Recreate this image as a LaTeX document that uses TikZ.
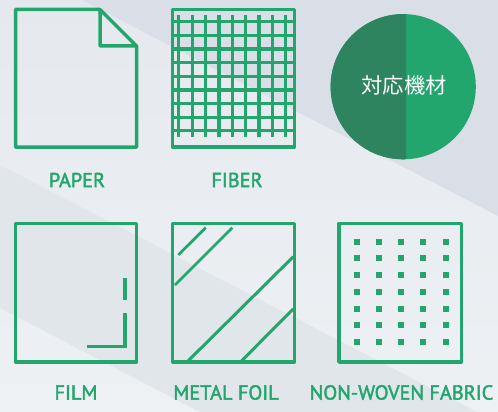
\documentclass[tikz,border=0pt]{standalone}
\usepackage{fontspec}
\setmainfont{PT Sans}[FakeBold=2]
\newfontfamily\cjkfont{Noto Sans CJK JP}
\definecolor{grn}{HTML}{22A66D}
\definecolor{grndark}{HTML}{2F8460}
\definecolor{bgtop}{HTML}{E5E8ED}
\definecolor{bgbot}{HTML}{EEF1F4}
\definecolor{bgdark}{HTML}{DADFE7}
\definecolor{bgband}{HTML}{E1E6EA}
\tikzset{
  icon/.style={draw=grn,line width=3.5pt,line join=round},
  fine/.style={draw=grn,line width=2.7pt},
  grid/.style={draw=grn,line width=3.1pt},
  lab/.style={text=grn,font=\fontsize{20.3}{20.3}\selectfont,inner sep=0pt,anchor=center}
}
\begin{document}
\begin{tikzpicture}[x=1pt,y=-1pt]
\useasboundingbox (0,0) rectangle (498,412);
\shade[top color=bgtop,bottom color=bgbot] (0,0) rectangle (498,412);
\fill[bgdark] (82,0) -- (498,216) -- (498,0) -- cycle;
\fill[bgband] (0,165) -- (477,412) -- (200,412) -- (0,308) -- cycle;
% paper
\draw[icon] (100,9.5) -- (15.5,9.5) -- (15.5,147) -- (136.5,147) -- (136.5,46) -- (100,9.5) -- (100,46) -- (136.5,46);
% fiber
\draw[icon] (172.5,9.5) rectangle (294.5,147);
\foreach \px in {178.7,192.3,205.7,219,232.3,245.7,259,272.3,285.7}
  \draw[grid] (\px,15) -- (\px,137);
\foreach \py in {21.7,35.5,49,62.7,76.3,90,103.7,117.3,130.5}
  \draw[grid] (172.5,\py) -- (294.5,\py);
% film
\draw[icon] (15.5,223.5) rectangle (136.5,362);
\draw[fine,line width=3.2pt] (125,278) -- (125,300);
\draw[fine,line width=3.2pt,line join=miter] (125,313) -- (125,346.7) -- (87,346.7);
% metal foil
\draw[icon] (172.5,223.5) rectangle (294.5,362);
\draw[fine] (205.7,227.7) -- (178.3,255);
\draw[fine] (232.3,227.7) -- (175,285);
\draw[fine,line width=3pt] (293.3,256.7) -- (188.3,360.7);
\draw[fine,line width=3pt] (293.3,309) -- (241.7,360.7);
% non-woven
\draw[icon] (339,223.5) rectangle (461.5,362);
\foreach \px in {357,379,401,423,446}
  \foreach \py in {241.7,257.7,274.7,291.7,308.7,324.7,341.7}
    \fill[grn] (\px-3,\py-3) rectangle (\px+3,\py+3);
% circle
\fill[grn] (403.2,86.7) circle[radius=72.6];
\begin{scope}
\clip (320,0) rectangle (406,180);
\fill[grndark] (403.2,86.7) circle[radius=72.6];
\end{scope}
\node[text=white,font=\cjkfont\fontsize{21.3}{21.3}\selectfont,inner sep=0pt] (title) at (404.2,85) {対応機材};
% labels
\node[lab] (lpaper) at (77,180) {PAPER};
\node[lab] (lfiber) at (237,180) {FIBER};
\node[lab] (lfilm) at (76,392.5) {FILM};
\node[lab] (lmetal) at (226,392.5) {METAL FOIL};
\node[lab] (lnon) at (401.5,392.5) {NON-WOVEN FABRIC};
\end{tikzpicture}
\end{document}
